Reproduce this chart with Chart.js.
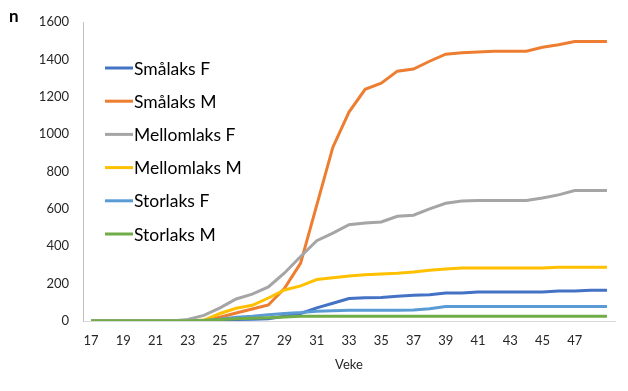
<!DOCTYPE html>
<html>
<head>
<meta charset="utf-8">
<script src="https://cdn.jsdelivr.net/npm/chart.js@4/dist/chart.umd.min.js"></script>
<style>
  html, body { margin: 0; padding: 0; background: #fff; }
  #wrap { width: 628px; height: 391px; position: relative; }
</style>
</head>
<body>
<div id="wrap"><canvas id="chart" width="628" height="391"></canvas></div>
<script>
// weeks on the category axis (49 has no label in the original)
const weeks = [17, 18, 19, 20, 21, 22, 23, 24, 25, 26, 27, 28, 29, 30, 31, 32, 33,
  34, 35, 36, 37, 38, 39, 40, 41, 42, 43, 44, 45, 46, 47, 48, 49];

const seriesNames = ['Smålaks F', 'Smålaks M', 'Mellomlaks F', 'Mellomlaks M', 'Storlaks F', 'Storlaks M'];
const seriesColors = ['#4472C4', '#ED7D31', '#A5A5A5', '#FFC000', '#5B9BD5', '#70AD47'];

const smalaksF = [0, 0, 0, 0, 0, 0, 0, 2, 5, 8, 10, 12, 25, 40, 70, 95, 120,
  125, 126, 133, 138, 140, 150, 150, 155, 155, 155, 155, 155, 160, 160, 165, 165];
const smalaksM = [0, 0, 0, 0, 0, 0, 0, 3, 20, 43, 64, 86, 175, 310, 620, 930, 1118,
  1240, 1273, 1337, 1348, 1390, 1428, 1435, 1440, 1444, 1444, 1444, 1465, 1478, 1495, 1495, 1495];
const mellomlaksF = [0, 0, 0, 0, 0, 0, 8, 30, 70, 118, 144, 182, 257, 345, 430, 470, 515,
  525, 530, 560, 566, 600, 630, 642, 645, 645, 645, 645, 658, 675, 698, 698, 698];
const mellomlaksM = [0, 0, 0, 0, 0, 0, 0, 5, 40, 68, 84, 123, 166, 188, 222, 232, 241,
  248, 251, 255, 262, 272, 278, 283, 283, 283, 283, 283, 283, 288, 288, 288, 288];
const storlaksF = [0, 0, 0, 0, 0, 0, 0, 3, 10, 20, 25, 33, 40, 45, 52, 55, 58,
  58, 58, 58, 59, 66, 78, 78, 78, 78, 78, 78, 78, 78, 78, 78, 78];
const storlaksM = [0, 0, 0, 0, 0, 0, 0, 3, 8, 12, 15, 18, 22, 25, 25, 25, 25,
  25, 25, 25, 25, 25, 25, 25, 25, 25, 25, 25, 25, 25, 25, 25, 25];

const yTicks = [0, 200, 400, 600, 800, 1000, 1200, 1400, 1600];

const allSeries = [smalaksF, smalaksM, mellomlaksF, mellomlaksM, storlaksF, storlaksM];

const FONT = 'Lato, "Open Sans", sans-serif';

// legend drawn inside the plot, like the Excel one
const insideLegend = {
  id: 'insideLegend',
  afterDraw(chart) {
    const { ctx, chartArea } = chart;
    ctx.save();
    ctx.font = '17.5px ' + FONT;
    ctx.textBaseline = 'middle';
    chart.data.datasets.forEach((ds, i) => {
      const y = chartArea.top + 46 + i * 33.2;
      const x = chartArea.left + 22;
      ctx.strokeStyle = ds.borderColor;
      ctx.lineWidth = 3;
      ctx.beginPath();
      ctx.moveTo(x, y);
      ctx.lineTo(x + 28, y);
      ctx.stroke();
      ctx.fillStyle = '#000';
      ctx.fillText(ds.label, x + 29, y + 1);
    });
    // the "n" axis caption at top-left
    ctx.font = 'bold 17px ' + FONT;
    ctx.fillText('n', 9, 17);
    ctx.restore();
  }
};

new Chart(document.getElementById('chart'), {
  type: 'line',
  data: {
    labels: weeks,
    datasets: allSeries.map((vals, i) => ({
      label: seriesNames[i],
      data: vals,
      borderColor: seriesColors[i],
      backgroundColor: seriesColors[i],
      borderWidth: 3,
      pointRadius: 0,
      tension: 0,
      order: allSeries.length - i
    }))
  },
  options: {
    responsive: false,
    animation: false,
    layout: { padding: { top: 22, right: 13, bottom: 18, left: 0 } },
    plugins: {
      legend: { display: false },
      tooltip: { enabled: false }
    },
    scales: {
      x: {
        offset: true,
        grid: { display: false, drawTicks: false },
        border: { display: true, color: '#d9d9d9', width: 1 },
        ticks: {
          autoSkip: false,
          maxRotation: 0,
          padding: 12,
          color: '#262626',
          font: { family: FONT, size: 13 },
          callback: (v, i) => (i % 2 === 0 && i < weeks.length - 1) ? weeks[i] : ''
        },
        title: {
          display: true,
          text: 'Veke',
          color: '#262626',
          font: { family: FONT, size: 13 },
          padding: { top: 2, bottom: 0 }
        },
        afterFit: (s) => { s.height = 52; }
      },
      y: {
        min: 0,
        max: 1600,
        afterBuildTicks: (s) => { s.ticks = yTicks.map(v => ({ value: v })); },
        grid: { display: false, drawTicks: false },
        border: { display: true, color: '#bfbfbf', width: 1 },
        ticks: {
          padding: 14,
          color: '#262626',
          font: { family: FONT, size: 13 },
          callback: (v) => String(v)
        },
        afterFit: (s) => { s.width = 83; }
      }
    }
  },
  plugins: [insideLegend]
});
</script>
</body>
</html>
